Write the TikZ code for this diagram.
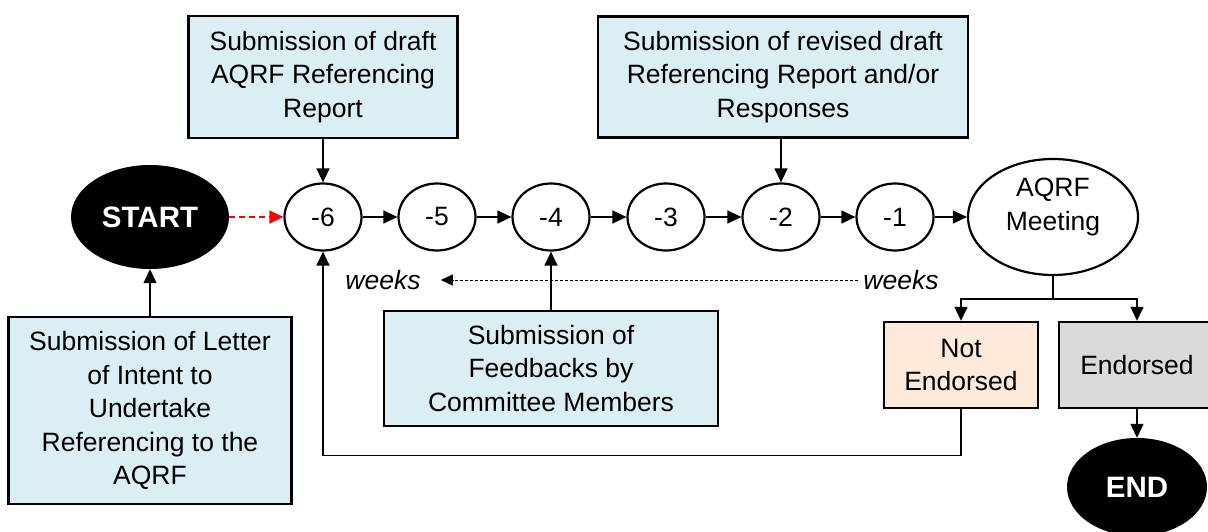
\documentclass[tikz,border=0pt]{standalone}
\usepackage{fontspec}
\setmainfont{Liberation Sans}
\usetikzlibrary{arrows.meta}
\usetikzlibrary{shapes.geometric}
\definecolor{boxblue}{HTML}{DAEEF3}
\definecolor{peach}{HTML}{FDE9D9}
\definecolor{greybox}{HTML}{D9D9D9}

\begin{document}
\begin{tikzpicture}[x=1pt,y=-1pt,
  font=\fontsize{26.5}{33.5}\selectfont,
  sbox/.style={draw,line width=2.4pt,fill=boxblue,align=center,inner sep=0pt},
  wk/.style={draw,ellipse,line width=2.2pt,minimum width=77pt,minimum height=67pt,inner sep=0pt},
  term/.style={ellipse,fill=black,text=white,inner sep=0pt,font=\fontsize{29.5}{32}\selectfont\bfseries},
  conn/.style={line width=1.3pt,-{Triangle[length=14pt,width=13pt]}}]
\useasboundingbox (0,0) rectangle (1208,532);
\node[term,minimum width=158pt,minimum height=104pt] (start) at (150,217) {START};
\foreach \w/\x in {6/323,5/437,4/551,3/666,2/781,1/895}
  \node[wk] (w\w) at (\x,217) {-\w};
\foreach \a/\b in {6/5,5/4,4/3,3/2,2/1}
  \draw[conn] (w\a) -- (w\b);
\node[wk,minimum width=170pt,minimum height=116pt] (meet) at (1053,217) {};
\node[align=center,inner sep=0pt] (meettext) at (1053,207) {AQRF\\Meeting};
\draw[conn] (w1) -- (meet);
\node[sbox,minimum width=269pt,minimum height=122pt] (draft) at (323,77) {Submission of draft\\AQRF Referencing\\Report};
\node[sbox,minimum width=370pt,minimum height=121pt] (revised) at (783,77) {Submission of revised draft\\Referencing Report and/or\\Responses};
\node[sbox,minimum width=283pt,minimum height=187pt] (letter) at (150,410.5) {Submission of Letter\\of Intent to\\Undertake\\Referencing to the\\AQRF};
\node[sbox,minimum width=334pt,minimum height=115pt] (feedback) at (551,368.5) {Submission of\\Feedbacks by\\Committee Members};
\node[sbox,fill=peach,minimum width=154pt,minimum height=86pt] (notend) at (961,365) {Not\\Endorsed};
\node[sbox,fill=greybox,minimum width=156pt,minimum height=86pt] (endorsed) at (1137,365) {Endorsed};
\node[term,minimum width=140pt,minimum height=98pt] (finish) at (1137,487) {END};
\node[inner sep=2pt,font=\fontsize{26.5}{30}\selectfont\itshape] (weeksL) at (383,280) {weeks};
\node[inner sep=2pt,font=\fontsize{26.5}{30}\selectfont\itshape] (weeksR) at (901,280) {weeks};
\draw[red,dash pattern=on 6pt off 4pt,line width=1.2pt,-{Triangle[length=14pt,width=13pt]}] (start) -- (w6);
\draw[conn] (draft) -- (w6);
\draw[conn] (w2 |- revised.south) -- (w2);
\draw[conn] (letter) -- (start);
\draw[conn] (feedback) -- (w4);
\draw[densely dashed,line width=0.8pt,-{Triangle[length=12pt,width=11pt]},shorten <=3pt,shorten >=18pt] (weeksR.west) -- (weeksL.east);
\draw[conn] (meet.south) -- ++(0,23) -| (notend.north);
\draw[conn] (meet.south) -- ++(0,23) -| (endorsed.north);
\draw[conn] (endorsed) -- (finish);
\draw[conn] (notend.south) -- ++(0,46) -| (w6.south);
\end{tikzpicture}
\end{document}
